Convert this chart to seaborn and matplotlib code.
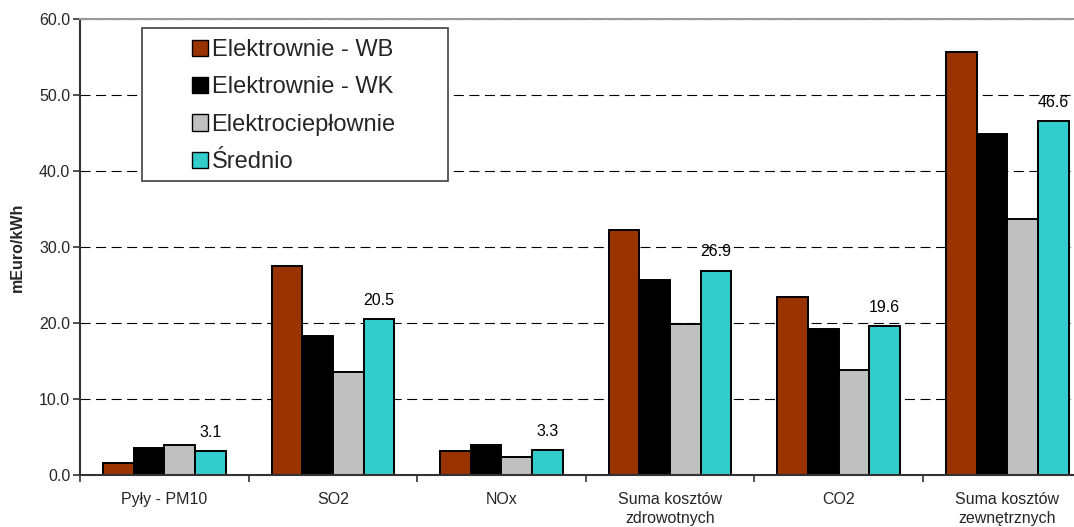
import numpy as np
import pandas as pd
import matplotlib
matplotlib.use("Agg")
import matplotlib.pyplot as plt
from matplotlib.patches import Patch, Rectangle
from matplotlib.ticker import FormatStrFormatter
import seaborn as sns

categories = ["Pyły - PM10", "SO2", "NOx", "Suma kosztów\nzdrowotnych", "CO2", "Suma kosztów\nzewnętrznych"]
series_names = ["Elektrownie - WB", "Elektrownie - WK", "Elektrociepłownie", "Średnio"]
wb = [1.6, 27.5, 3.2, 32.3, 23.4, 55.7]
wk = [3.5, 18.3, 3.9, 25.7, 19.2, 44.9]
ec = [3.9, 13.6, 2.4, 19.9, 13.8, 33.7]
avg = [3.1, 20.5, 3.3, 26.9, 19.6, 46.6]
colors = ["#993300", "#000000", "#C0C0C0", "#33CCCC"]
y_ticks = [0, 10, 20, 30, 40, 50, 60]

rows = []
for name, vals in zip(series_names, [wb, wk, ec, avg]):
    for c, v in zip(categories, vals):
        rows.append({"cat": c, "series": name, "value": v})
df = pd.DataFrame(rows)

sns.set_style("white")
plt.rcParams["font.family"] = ["Liberation Sans", "DejaVu Sans"]

fig = plt.figure(figsize=(10.74, 5.27), dpi=100)
ax = fig.add_axes([80 / 1074, 52 / 527, 1011.6 / 1074, 456 / 527])

sns.barplot(data=df, x="cat", y="value", hue="series", order=categories,
            hue_order=series_names, palette=colors, width=0.726,
            edgecolor="black", linewidth=1.4, saturation=1, legend=False, ax=ax,
            errorbar=None)

# value labels on the average series
ax.bar_label(ax.containers[3], fmt="%.1f", padding=8, fontsize=11.5, color="black")

n = len(categories)
ax.set_xlim(-0.5, n - 0.5)
ax.set_ylim(0, 60)
ax.set_yticks(y_ticks)
ax.yaxis.set_major_formatter(FormatStrFormatter("%.1f"))
ax.set_xticks(np.arange(n + 1) - 0.5)
ax.set_xticklabels([""] * (n + 1))
ax.set_xticks(np.arange(n), minor=True)
ax.set_xticklabels(categories, minor=True, fontsize=11.5, linespacing=1.35)
ax.tick_params(axis="x", which="major", length=5, width=1.2, color="#333333", direction="out", bottom=True)
ax.tick_params(axis="x", which="minor", length=0, pad=12, bottom=True)
ax.tick_params(axis="y", length=5, width=1.2, color="#333333", direction="out", labelsize=11.5, pad=2, left=True)
ax.set_xlabel("")
ax.set_ylabel("mEuro/kWh", fontsize=11.5, fontweight="bold")
ax.yaxis.set_label_coords(-0.0546, 0.5)

ax.set_axisbelow(True)
ax.yaxis.grid(True, color="black", linestyle=(0, (9, 5)), linewidth=0.8)
ax.xaxis.grid(False)

for s in ["left", "bottom"]:
    ax.spines[s].set_color("#333333")
    ax.spines[s].set_linewidth(1.5)
ax.spines["top"].set_color("#999999")
ax.spines["top"].set_linewidth(1.5)
ax.spines["right"].set_color("#999999")

ax.add_patch(Rectangle((0.0613, 0.6454), 0.3025, 0.3355, transform=ax.transAxes,
                       facecolor="white", edgecolor="#404040", linewidth=1.2, zorder=4))

handles = [Patch(facecolor=c, edgecolor="black", linewidth=1.0) for c in colors]
leg = ax.legend(handles, series_names, loc="upper left",
                bbox_to_anchor=(192 / 1074, 1 - 39 / 527), bbox_transform=fig.transFigure,
                frameon=False, fontsize=17, labelspacing=0.65, handlelength=0.68,
                handleheight=0.68, handletextpad=0.15, borderpad=0, borderaxespad=0)
leg.set_zorder(5)

fig.savefig("out.png", dpi=100)
